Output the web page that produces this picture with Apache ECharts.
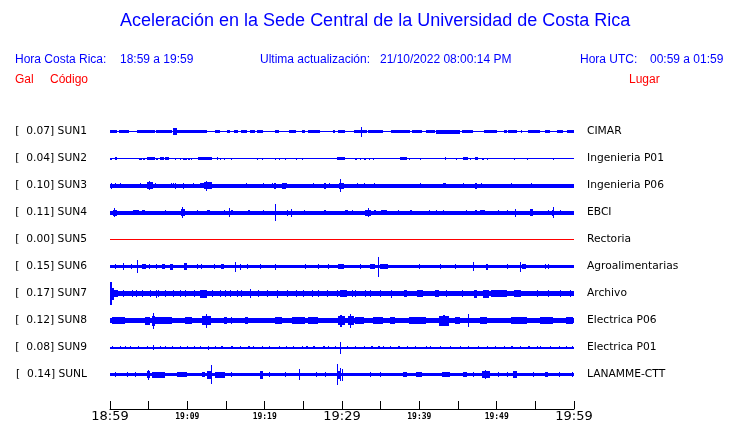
<!DOCTYPE html>
<html>
<head>
<meta charset="utf-8">
<script src="https://cdn.jsdelivr.net/npm/echarts@6/dist/echarts.min.js"></script>
<style>html,body{margin:0;padding:0;background:#fff}#c{width:740px;height:423px}</style>
</head>
<body>
<div id="c"></div>
<script>
// ---- text / categories ----
const titleText = 'Aceleración en la Sede Central de la Universidad de Costa Rica';
const localTime = '18:59 a 19:59';
const utcTime = '00:59 a 01:59';
const updated = '21/10/2022 08:00:14 PM';
const codes = ['SUN1','SUN2','SUN3','SUN4','SUN5','SUN6','SUN7','SUN8','SUN9','SUNL'];
const galValues = [0.07, 0.04, 0.10, 0.11, 0.00, 0.15, 0.17, 0.12, 0.08, 0.14];
const places = ['CIMAR','Ingenieria P01','Ingenieria P06','EBCI','Rectoria','Agroalimentarias','Archivo','Electrica P06','Electrica P01','LANAMME-CTT'];
const traceColors = ['#0000ff','#0000ff','#0000ff','#0000ff','#ff0000','#0000ff','#0000ff','#0000ff','#0000ff','#0000ff'];
// x axis: minutes after 18:59
const xTickMinutes = [0,10,20,30,40,50,60];
const xTickLabels = ['18:59','19:09','19:19','19:29','19:39','19:49','19:59'];
const xBigLabels = ['18:59','19:29','19:59'];

// ---- trace envelopes: base half-amplitude, bursts [startMin, endMin, halfAmp] ----
const baseAmp = [0.5, 0.5, 2, 2, 0.5, 1.5, 2.5, 2.5, 1, 1.5];

const sun1Events = [[0,0.86,1.5],[1.1,2.4,1.5],[3.5,5.8,1.5],[5.9,8.0,1.5],[8.2,8.6,3.5],[8.6,9.9,1.5],[10.0,12.5,1.5],[13.6,14.2,1.5],[15.1,15.5,1.5],[16.0,16.6,1.5],[17.0,17.7,1.5],[18.1,18.8,1.5],[19.0,19.8,1.5],[21.3,21.8,1.5],[23.1,24.1,1.5],[24.8,25.2,1.5],[25.6,27.2,1.5],[28.9,29.1,1.5],[29.5,30.4,1.5],[31.5,33.2,1.5],[32.4,32.6,5],[33.4,35.3,1.5],[36.4,38.8,1.5],[39.0,40.4,1.5],[40.8,42.0,1.5],[42.2,45.3,2],[45.5,47.0,1.5],[48.3,50.0,1.5],[50.9,51.3,1.5],[51.5,52.6,1.5],[53.1,53.3,1.5],[54.1,55.6,1.5],[56.2,56.9,1.5],[57.8,58.6,1.5],[59.1,60,1.5]];
const sun2Events = [[0,0.2,1],[0.65,0.86,1.5],[3.7,4.1,1],[4.3,4.5,1],[4.75,5.8,1.5],[6.0,6.2,1],[6.5,7.0,1.5],[7.1,7.6,1.5],[8.4,8.5,1],[9.0,9.2,1],[9.5,9.9,1],[10.1,10.3,1],[10.5,10.6,1],[11.4,13.15,1.5],[13.8,14.0,1.5],[14.2,14.3,1],[14.7,14.9,1],[15.7,15.8,1],[18.96,19.2,1],[19.6,19.8,1],[21.3,21.4,1],[21.9,22.0,1],[22.6,22.7,1],[24.1,24.2,1],[24.8,24.9,1],[29.3,30.4,1.5],[31.7,31.9,1],[32.3,32.5,1],[32.9,33.1,1],[33.5,33.6,1],[34.0,34.2,1],[37.5,38.4,1.5],[38.6,38.7,1],[40.1,40.2,1],[43.3,43.5,1.5],[44.7,44.9,1],[45.7,46.3,1.5],[46.5,46.7,1],[47.2,47.6,1.5],[48.1,48.3,1],[48.7,48.9,1],[52.2,52.3,1],[53.9,54.0,1],[57.3,57.4,1]];
const sun3Events = [[0.1,0.2,3],[0.6,0.7,2.5],[1.25,1.35,2.5],[3.85,3.95,2.5],[4.75,5.6,3.5],[5.0,5.2,4.5],[5.8,5.9,2.5],[7.95,8.05,2.5],[8.15,8.25,2.5],[8.45,8.55,3],[9.45,9.6,3],[10.75,10.85,2.5],[11.6,12.1,2.5],[12.1,13.2,3.5],[12.45,12.6,5],[17.6,17.7,2.5],[19.8,19.9,2.5],[20.9,21.0,2.5],[21.2,21.5,3],[22.2,22.7,3],[22.8,22.9,2.5],[26.3,26.4,2.5],[27.7,27.9,3],[28.3,28.4,2.5],[29.6,30.2,3],[29.75,29.85,6.7],[31.9,32.0,2.5],[32.8,32.9,2.5],[34.2,34.3,2.5],[40.1,40.2,2.5],[43.1,43.5,2.5],[45.7,45.8,2.5],[47.2,47.4,3],[48.0,48.1,2.5],[51.9,52.0,2.5],[54.5,54.6,2.5]];
const sun4Events = [[0.4,0.9,3],[0.55,0.7,4.5],[3.0,3.7,2.5],[4.1,4.5,2.5],[7.1,7.2,2.5],[9.2,9.7,3.5],[9.3,9.45,5.5],[11.3,11.4,2.5],[12.5,12.9,2.5],[14.8,14.9,2.5],[15.35,15.45,4.5],[15.7,15.95,2.5],[17.9,18.1,2.5],[19.8,19.9,2.5],[21.3,21.4,8.3],[22.9,23.0,3],[23.35,23.45,4],[25.1,25.2,2.5],[27.7,27.9,2.5],[30.4,30.8,2.5],[31.3,31.4,2.5],[33.0,33.8,3],[33.3,33.5,4.5],[34.2,34.4,2.5],[35.0,35.8,2.5],[37.3,37.4,2.5],[38.8,39.1,2.5],[41.2,41.4,2.5],[42.2,42.3,2.5],[43.1,43.2,2.5],[46.0,46.2,2.5],[47.2,47.4,2.5],[47.8,48.5,2.5],[50.2,50.3,2.5],[51.3,51.4,2.5],[52.35,52.45,4],[54.3,54.7,3.5],[56.6,56.7,2.5],[57.2,57.4,3],[57.25,57.35,5.3],[58.2,58.3,2.5]];
const sun5Events = [];
const sun6Events = [[0.6,0.7,2.5],[1.65,1.8,3.5],[2.75,2.85,2.5],[3.5,3.6,6.5],[4.1,4.7,2.5],[5.1,5.2,2.5],[6.0,6.1,2.5],[6.7,7.1,2.5],[7.8,8.2,3],[9.6,10.0,3.5],[11.2,11.3,2.5],[11.8,11.9,2.5],[13.5,13.6,2.5],[14.4,14.7,2.5],[16.1,16.2,5],[16.8,17.0,3],[17.7,17.8,2.5],[19.4,19.5,2.5],[21.35,21.45,3],[25.2,25.3,2.5],[26.9,27.0,2.5],[28.2,28.3,2.5],[29.5,30.2,2.5],[32.3,32.4,2.5],[33.6,34.3,2.5],[34.6,34.7,10],[34.9,36.0,2.5],[39.9,40.0,2.5],[42.7,42.8,2.5],[44.6,44.7,2.5],[46.9,47.1,4.5],[48.6,48.9,3],[51.4,51.5,2.5],[53.0,53.2,5],[53.3,53.8,2.5],[56.2,56.3,2.5],[56.7,56.8,2.5]];
const sun7Events = [[0,0.25,11.7],[0.3,0.5,6],[0.5,1.0,3.5],[1.7,1.8,3.5],[2.8,2.9,3.5],[3.4,3.5,3.5],[4.1,4.2,3.5],[5.15,5.25,3.5],[6.0,6.1,4],[6.25,6.35,3.5],[7.1,7.2,3.5],[8.2,8.3,3.5],[9.05,9.15,3.5],[9.7,9.8,3.5],[10.8,10.9,3.5],[11.6,12.6,4],[13.15,13.25,3.5],[14.2,14.3,3.5],[14.85,14.95,3.5],[15.5,15.6,3.5],[16.4,16.5,3.5],[17.0,17.1,3.5],[18.1,18.2,4.5],[19.2,19.3,3.5],[20.3,20.4,3.5],[21.55,21.65,4],[22.85,22.95,3.5],[24.1,24.2,3.5],[25.0,25.1,3.5],[26.1,26.2,3.5],[26.9,27.0,3.5],[28.0,28.1,3.5],[29.3,29.4,3.5],[29.74,30.6,3.5],[31.3,31.4,3.5],[31.7,31.8,3.5],[33.0,33.1,3.5],[33.6,33.7,3.5],[34.9,35.0,3.5],[36.4,36.5,4],[38.0,38.4,3.5],[39.7,40.5,3.5],[42.0,42.5,3.5],[43.5,43.6,3.5],[45.5,45.6,3.5],[47.1,47.4,4],[48.2,49.0,4],[49.3,51.3,3.5],[52.2,53.1,3.5],[55.2,55.3,3.5],[56.7,56.8,3.5],[58.2,58.3,3.5],[59.5,59.6,3.5]];
const sun8Events = [[0.2,1.94,3.5],[4.5,5.2,4],[5.4,5.8,5],[5.55,5.65,8],[5.8,8.0,3.5],[9.7,10.6,3.5],[11.9,13.0,4.5],[12.4,12.55,7],[14.7,15.1,3.5],[15.7,15.8,3.5],[17.5,17.9,3.5],[21.3,22.2,3.5],[23.5,25.2,3.5],[25.6,26.9,3.5],[29.5,30.4,4.5],[29.7,30.0,6],[30.8,31.6,4.5],[31.0,31.2,7],[31.7,32.8,3.5],[34.0,35.3,3.5],[36.2,36.8,3.5],[38.7,40.9,3.5],[42.6,43.8,5],[43.0,43.3,5.5],[44.6,45.3,3.5],[46.3,46.4,6.7],[47.8,48.7,3.5],[51.9,53.9,3.5],[55.6,57.3,3.5],[59.0,59.9,3.5]];
const sun9Events = [[0.22,0.4,1.5],[1.29,1.45,1.5],[1.94,2.1,1.5],[2.59,2.75,1.5],[3.66,3.8,1.5],[4.74,4.9,1.5],[5.55,5.7,2.7],[6.46,6.6,1.5],[7.11,7.25,1.5],[7.97,8.1,1.5],[9.05,9.2,1.5],[9.91,10.05,1.5],[10.8,10.95,1.5],[11.6,11.75,1.5],[12.65,12.8,2],[13.6,13.75,1.5],[14.4,14.55,1.5],[15.7,15.85,1.5],[16.8,16.95,1.5],[17.9,18.05,1.5],[18.5,18.65,1.5],[19.6,19.75,1.5],[20.5,20.65,1.5],[21.8,21.95,1.5],[22.8,22.95,1.5],[23.7,23.85,1.5],[24.8,24.95,1.5],[25.4,25.55,1.5],[26.3,26.45,1.5],[27.6,27.75,1.5],[28.2,28.35,1.5],[29.1,29.25,1.5],[29.75,29.85,6],[30.6,30.75,1.5],[31.7,31.85,1.5],[32.8,32.95,1.5],[33.8,33.95,1.5],[34.7,34.85,1.5],[35.3,35.45,1.5],[36.2,36.35,1.5],[37.3,37.45,1.5],[38.4,38.55,1.5],[39.4,39.55,1.5],[40.8,40.95,1.5],[41.4,41.55,1.5],[42.7,42.85,1.5],[44.0,44.15,1.5],[45.3,45.45,1.5],[46.3,46.45,1.5],[47.6,47.75,1.5],[48.7,48.85,1.5],[49.8,49.95,1.5],[50.9,51.05,1.5],[51.9,52.05,1.5],[53.0,53.15,1.5],[54.1,54.25,1.5],[55.2,55.35,1.5],[55.6,55.75,1.5],[56.9,57.05,1.5],[58.0,58.15,1.5],[59.0,59.15,1.5],[59.7,59.85,1.5]];
const sunLEvents = [[0.65,0.75,2.5],[2.16,2.26,2.5],[3.23,3.33,2.5],[4.8,5.2,3.5],[4.95,5.05,5],[5.4,7.1,3],[8.6,9.9,2.5],[11.85,12.3,2.5],[12.5,13.2,4],[13.05,13.15,9.3],[13.6,14.9,3],[15.7,15.8,2.5],[19.4,19.8,4],[20.5,20.6,2.5],[22.6,22.7,2.5],[24.4,24.5,5.5],[26.7,26.8,2.5],[27.8,27.9,2.5],[29.3,29.7,4],[29.35,29.45,10.5],[29.8,29.9,6.7],[29.95,30.05,6],[33.6,33.7,2.5],[34.9,35.0,2.5],[37.9,38.4,2.5],[39.6,40.3,2.5],[42.9,44.0,2.5],[45.7,46.1,2.5],[47.0,47.1,2.5],[48.1,49.2,3.5],[48.5,48.6,4.5],[50.2,50.3,2.5],[51.3,51.4,2.5],[52.1,52.6,3.5],[54.7,54.8,2.5],[56.2,56.7,2.5],[58.0,58.1,2.5],[59.7,59.8,2.5]];
const traceEvents = [sun1Events, sun2Events, sun3Events, sun4Events, sun5Events, sun6Events, sun7Events, sun8Events, sun9Events, sunLEvents];

// ---- layout constants ----
const ROW = 27; // data units between traces
const blue = '#0000ff', red = '#ff0000';

function renderItem(params, api) {
  const t0 = api.value(0), t1 = api.value(1), row = api.value(2), a = api.value(3);
  const p0 = api.coord([t0, row * ROW - a]);
  const p1 = api.coord([t1, row * ROW + a]);
  const x0 = Math.round(p0[0]);
  const x1 = Math.max(Math.round(p1[0]), x0 + 1);
  const y0 = Math.round(Math.min(p0[1], p1[1]));
  const y1 = Math.max(Math.round(Math.max(p0[1], p1[1])), y0 + 1);
  return { type: 'rect', shape: { x: x0, y: y0, width: x1 - x0, height: y1 - y0 },
           style: { fill: api.visual('color') } };
}

const series = codes.map((c, i) => {
  const data = [[0, 60, i, baseAmp[i]]].concat(traceEvents[i].map(e => [e[0], e[1], i, e[2]]));
  return { type: 'custom', name: c, renderItem, data, color: traceColors[i],
           encode: { x: [0, 1], y: 2 }, silent: true, animation: false };
});

function txt(text, left, top, size, color) {
  return { text, left, top, padding: 0,
           textStyle: { fontFamily: 'Liberation Sans', fontSize: size, fontWeight: 'normal', color } };
}

const yCommon = {
  type: 'value', inverse: true, min: -ROW, max: 277.5, interval: ROW,
  splitLine: { show: false }, axisLine: { show: false }, axisTick: { show: false }
};

const chart = echarts.init(document.getElementById('c'), null, { renderer: 'canvas' });
chart.setOption({
  animation: false,
  backgroundColor: '#fff',
  title: [
    { text: titleText, left: 120, top: 12, padding: 0,
      textStyle: { fontFamily: 'Liberation Sans', fontSize: 18, fontWeight: 'normal', color: blue } },
    txt('Hora Costa Rica:', 15, 54, 12, blue),
    txt(localTime, 120, 54, 12, blue),
    txt('Ultima actualización:', 260, 54, 12, blue),
    txt(updated, 380, 54, 12, blue),
    txt('Hora UTC:', 580, 54, 12, blue),
    txt(utcTime, 650, 54, 12, blue),
    txt('Gal', 15, 74, 12, red),
    txt('Código', 50, 74, 12, red),
    txt('Lugar', 629, 74, 12, red)
  ],
  grid: { left: 110, right: 166, top: 104.5, bottom: 14, containLabel: false },
  xAxis: {
    type: 'value', min: 0, max: 60, interval: 5,
    splitLine: { show: false },
    axisLine: { show: true, onZero: false, lineStyle: { color: '#000', width: 1 } },
    axisTick: { show: true, inside: true, length: 8, lineStyle: { color: '#000' } },
    axisLabel: {
      margin: 1,
      formatter: v => {
        const k = xTickMinutes.indexOf(Math.round(v));
        if (k < 0) return '';
        const lab = xTickLabels[k];
        return xBigLabels.indexOf(lab) >= 0 ? '{big|' + lab + '}' : '{small|' + lab + '}';
      },
      rich: {
        big: { fontFamily: 'DejaVu Sans', fontSize: 13, color: '#000', verticalAlign: 'top', lineHeight: 14 },
        small: { fontFamily: 'DejaVu Sans Mono', fontSize: 8, fontWeight: 'bold', color: '#000', verticalAlign: 'top', lineHeight: 14, padding: [3, 0, 0, 0] }
      }
    }
  },
  yAxis: [
    Object.assign({}, yCommon, {
      position: 'left',
      axisLabel: { margin: 23, fontFamily: 'DejaVu Sans', fontSize: 10.7, color: '#000',
        formatter: v => { const i = Math.round(v / ROW); return (Math.abs(v - i * ROW) < 0.01 && i >= 0 && i < codes.length) ? '[  ' + galValues[i].toFixed(2) + '] ' + codes[i] : ''; } }
    }),
    Object.assign({}, yCommon, {
      position: 'right',
      axisLabel: { margin: 13, fontFamily: 'DejaVu Sans', fontSize: 10.7, color: '#000',
        formatter: v => { const i = Math.round(v / ROW); return (Math.abs(v - i * ROW) < 0.01 && i >= 0 && i < places.length) ? places[i] : ''; } }
    })
  ],
  series
});
</script>
</body>
</html>
